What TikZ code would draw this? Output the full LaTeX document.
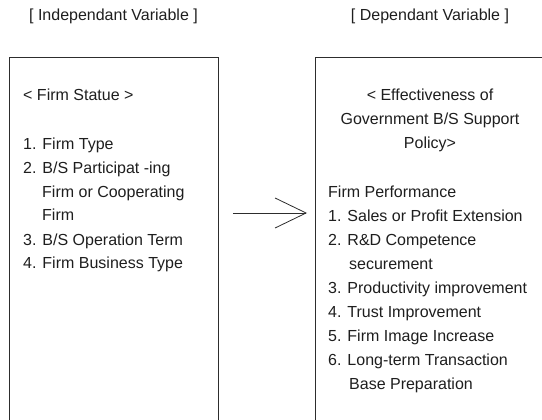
\documentclass[tikz,border=0pt]{standalone}
\usepackage{fontspec}
\setmainfont{Liberation Sans}
\usepackage{tikz}
\usetikzlibrary{arrows.meta}
\usetikzlibrary{positioning}
\definecolor{ink}{RGB}{30, 30, 30}
\definecolor{frame}{RGB}{45, 45, 45}

\begin{document}
\begin{tikzpicture}[x=1pt, y=-1pt, font=\fontsize{16}{24}\selectfont, text=ink,
        varbox/.style={draw=frame, line width=0.9pt, anchor=north west, minimum height=400pt, inner sep=0pt},
        heading/.style={anchor=base, inner sep=0pt},
        boxtext/.style={anchor=base west, align=left, inner sep=0pt},
        flow/.style={draw=frame, line width=0.8pt, -{Straight Barb[length=31pt, width=30pt]}}]
            \path[use as bounding box, clip]                  (0, 0) rectangle (542, 420);
            % both boxes run on past the lower edge
            \node[varbox, minimum width=209pt] (indep)        at (  9, 57) {};
            \node[varbox, minimum width=230pt] (dep)          at (315, 57) {};
            \node[heading]                     (indephead)    at (113.5, 21) {[ Independant Variable ]};
            \node[heading]                     (dephead)      at (430, 21) {[ Dependant Variable ]};
            % firm side (multi-line nodes sit on the baseline of their last line)
            \node[boxtext]                     (statue)       at ( 23, 101) {< Firm Statue >};
            \node[boxtext]                     (statuelist)   at ( 23, 269) {1. Firm Type\\
                 2. B/S Participat -ing\\ \hspace*{19pt}Firm or Cooperating\\ \hspace*{19pt}Firm\\
                 3. B/S Operation Term\\ 4. Firm Business Type};
            % policy side
            \node[heading, align=center]       (policy)       at (430, 149) {< Effectiveness of\\
                 Government B/S Support\\ Policy>};
            \node[boxtext]                     (performance)  at (328, 389) {Firm Performance\\
                 1. Sales or Profit Extension\\ 2. R\&D Competence\\ \hspace*{21pt}securement\\
                 3. Productivity improvement\\ 4. Trust Improvement\\ 5. Firm Image Increase\\
                 6. Long-term Transaction\\ \hspace*{21pt}Base Preparation};
            \draw[flow] ([xshift=14pt, yshift=-156pt]indep.north east) -- ([xshift=-8pt, yshift=-156pt]dep.north west);
            \end{tikzpicture}
\end{document}
